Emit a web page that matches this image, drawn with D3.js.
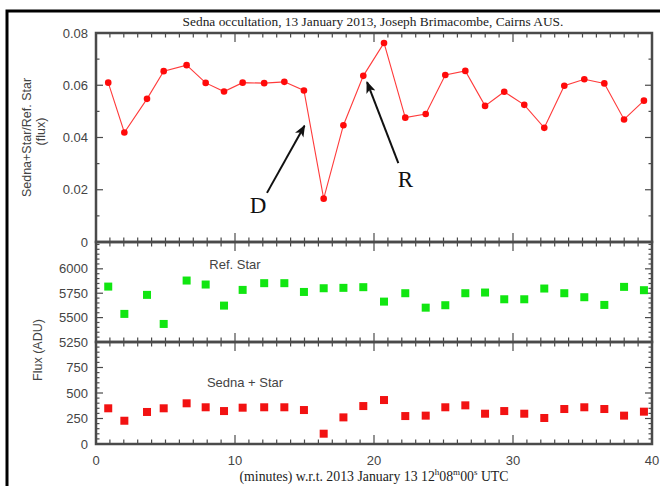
<!DOCTYPE html>
<html>
<head>
<meta charset="utf-8">
<script src="https://cdn.jsdelivr.net/npm/d3@7"></script>
<style>
  body { margin: 0; background: #fff; }
  svg { display: block; }
</style>
</head>
<body>
<svg id="svg1"></svg>
<script>
// data (minutes after 12h08m00s UTC)
const times = [0.88, 2.04, 3.67, 4.87, 6.52, 7.89, 9.21, 10.55, 12.1, 13.55, 14.96, 16.38, 17.8, 19.23,
  20.72, 22.25, 23.72, 25.13, 26.57, 27.99, 29.37, 30.81, 32.25, 33.69, 35.13, 36.57, 37.99, 39.42];
const ratio = [0.061, 0.0419, 0.0548, 0.0654, 0.0677, 0.0609, 0.0576, 0.061, 0.0608, 0.0613, 0.058, 0.0166, 0.0447, 0.0636,
  0.0762, 0.0476, 0.049, 0.0639, 0.0655, 0.0521, 0.0575, 0.0525, 0.0437, 0.0598, 0.0623, 0.0607, 0.0469, 0.0541];
const refStar = [5818, 5538, 5733, 5435, 5880, 5839, 5623, 5784, 5853, 5853, 5763, 5801, 5805, 5812,
  5664, 5750, 5602, 5627, 5750, 5757, 5688, 5688, 5798, 5750, 5709, 5630, 5815, 5781];
const sednaStar = [350, 228, 314, 350, 399, 360, 323, 356, 360, 360, 333, 101, 261, 372,
  431, 274, 278, 360, 379, 297, 323, 297, 255, 343, 360, 343, 278, 317];

const ratioTicks = [0, 0.02, 0.04, 0.06, 0.08];
const refTicks = [5250, 5500, 5750, 6000];
const sednaTicks = [0, 250, 500, 750];
const xTicks = [0, 10, 20, 30, 40];

// annotation arrows: [label, tail t, tail value, head t, head value]
const arrows = [
  ["D", 12.3, 0.0188, 15.0, 0.0445],
  ["R", 21.75, 0.0302, 19.5, 0.0612]
];

const width = 660, height = 486;
const left = 96, right = 652;
const p1 = {top: 33, bottom: 242};
const p2 = {top: 242, bottom: 342};
const p3 = {top: 342, bottom: 444};
const axisColor = "#4a4a4a";
const sans = "'Liberation Sans', Arial, sans-serif";
const serif = "'Liberation Serif', 'Times New Roman', serif";

const svg = d3.select('#svg1').attr('width', width).attr('height', height);

// outer frame
svg.append('rect')
    .attr('x', 7).attr('y', 11).attr('width', 700).attr('height', 520)
    .attr('fill', 'none').attr('stroke', '#000').attr('stroke-width', 3);

const x = d3.scaleLinear().domain([0, 40]).range([left, right]);
const y1 = d3.scaleLinear().domain([0, 0.08]).range([p1.bottom, p1.top]);
const y2 = d3.scaleLinear().domain([5250, 6275]).range([p2.bottom, p2.top]);
const y3 = d3.scaleLinear().domain([0, 1000]).range([p3.bottom, p3.top]);

const idx = d3.range(times.length);

function panelAxes(y, p, majors, minorStep, fmt, showX) {
  const g = svg.append('g');
  // frame
  g.append('rect')
      .attr('x', left).attr('y', p.top)
      .attr('width', right - left).attr('height', p.bottom - p.top)
      .attr('fill', 'none').attr('stroke', axisColor).attr('stroke-width', 2.5);

  // x ticks (bottom and top, inward)
  const xMinor = d3.range(0, 41, 1);
  xMinor.forEach(function(t) {
    const len = (t % 10 === 0) ? 9 : 4.5;
    g.append('line').attr('x1', x(t)).attr('x2', x(t))
        .attr('y1', p.bottom).attr('y2', p.bottom - len)
        .attr('stroke', axisColor).attr('stroke-width', 1.2);
    g.append('line').attr('x1', x(t)).attr('x2', x(t))
        .attr('y1', p.top).attr('y2', p.top + len)
        .attr('stroke', axisColor).attr('stroke-width', 1.2);
  });

  // y ticks (left and right, inward)
  const d = y.domain();
  const yMinor = d3.range(d[0], d[1] + 1e-9, minorStep);
  yMinor.forEach(function(v) {
    const major = majors.some(function(m) { return Math.abs(m - v) < minorStep / 10; });
    const len = major ? 7 : 3.5;
    g.append('line').attr('x1', left).attr('x2', left + len)
        .attr('y1', y(v)).attr('y2', y(v))
        .attr('stroke', axisColor).attr('stroke-width', 1.2);
    g.append('line').attr('x1', right).attr('x2', right - len)
        .attr('y1', y(v)).attr('y2', y(v))
        .attr('stroke', axisColor).attr('stroke-width', 1.2);
  });

  g.selectAll('text.ylab')
      .data(majors)
      .enter()
      .append('text')
      .attr('x', left - 8)
      .attr('y', function(v) { return y(v); })
      .attr('dy', '0.35em')
      .attr('text-anchor', 'end')
      .attr('font-family', sans)
      .attr('font-size', 13)
      .attr('fill', '#444')
      .text(fmt);

  if (showX) {
    g.selectAll('text.xlab')
        .data(xTicks)
        .enter()
        .append('text')
        .attr('x', function(t) { return x(t); })
        .attr('y', p.bottom + 21)
        .attr('text-anchor', 'middle')
        .attr('font-family', sans)
        .attr('font-size', 13)
        .attr('fill', '#444')
        .text(function(t) { return t; });
  }
}

panelAxes(y1, p1, ratioTicks, 0.01, function(v) { return v === 0 ? '0' : d3.format('.2f')(v); }, false);
panelAxes(y2, p2, refTicks, 50, function(v) { return v; }, false);
panelAxes(y3, p3, sednaTicks, 50, function(v) { return v; }, true);

// top panel: ratio line + dots
const line = d3.line()
    .x(function(i) { return x(times[i]); })
    .y(function(i) { return y1(ratio[i]); });
svg.append('path')
    .datum(idx)
    .attr('d', line)
    .attr('fill', 'none')
    .attr('stroke', '#ff3b3b')
    .attr('stroke-width', 1.1);
svg.selectAll('circle.ratio')
    .data(idx)
    .enter()
    .append('circle')
    .attr('cx', function(i) { return x(times[i]); })
    .attr('cy', function(i) { return y1(ratio[i]); })
    .attr('r', 3.3)
    .attr('fill', '#ff0a0a');

// ref star squares
const sq = 8;
svg.selectAll('rect.ref')
    .data(idx)
    .enter()
    .append('rect')
    .attr('x', function(i) { return x(times[i]) - sq / 2; })
    .attr('y', function(i) { return y2(refStar[i]) - sq / 2; })
    .attr('width', sq).attr('height', sq)
    .attr('fill', '#11e611');

// sedna + star squares
svg.selectAll('rect.sedna')
    .data(idx)
    .enter()
    .append('rect')
    .attr('x', function(i) { return x(times[i]) - sq / 2; })
    .attr('y', function(i) { return y3(sednaStar[i]) - sq / 2; })
    .attr('width', sq).attr('height', sq)
    .attr('fill', '#f21212');

// panel labels
svg.append('text')
    .attr('x', 235).attr('y', 269)
    .attr('text-anchor', 'middle')
    .attr('font-family', sans).attr('font-size', 13).attr('fill', '#444')
    .text('Ref. Star');
svg.append('text')
    .attr('x', 245).attr('y', 387)
    .attr('text-anchor', 'middle')
    .attr('font-family', sans).attr('font-size', 13).attr('fill', '#444')
    .text('Sedna + Star');

// y axis titles
svg.append('text')
    .attr('transform', 'translate(31,' + (p1.top + p1.bottom) / 2 + ') rotate(-90)')
    .attr('text-anchor', 'middle')
    .attr('font-family', sans).attr('font-size', 12.5).attr('fill', '#444')
    .text('Sedna+Star/Ref. Star');
svg.append('text')
    .attr('transform', 'translate(45,' + ((p1.top + p1.bottom) / 2 - 6) + ') rotate(-90)')
    .attr('text-anchor', 'middle')
    .attr('font-family', sans).attr('font-size', 12.5).attr('fill', '#444')
    .text('(flux)');
svg.append('text')
    .attr('transform', 'translate(42,350) rotate(-90)')
    .attr('text-anchor', 'middle')
    .attr('font-family', sans).attr('font-size', 12.5).attr('fill', '#444')
    .text('Flux (ADU)');

// title
svg.append('text')
    .attr('x', 373).attr('y', 26)
    .attr('text-anchor', 'middle')
    .attr('font-family', serif).attr('font-size', 13.4).attr('fill', '#222')
    .text('Sedna occultation, 13 January 2013, Joseph Brimacombe, Cairns AUS.');

// x axis title with superscripts
const xt = svg.append('text')
    .attr('x', 374).attr('y', 481)
    .attr('text-anchor', 'middle')
    .attr('font-family', serif).attr('font-size', 13.8).attr('fill', '#222');
xt.append('tspan').text('(minutes) w.r.t. 2013 January 13 12');
xt.append('tspan').attr('dy', -6).attr('font-size', 9).text('h');
xt.append('tspan').attr('dy', 6).text('08');
xt.append('tspan').attr('dy', -6).attr('font-size', 9).text('m');
xt.append('tspan').attr('dy', 6).text('00');
xt.append('tspan').attr('dy', -6).attr('font-size', 9).text('s');
xt.append('tspan').attr('dy', 6).text(' UTC');

// annotation arrows
svg.append('defs').append('marker')
    .attr('id', 'head')
    .attr('viewBox', '0 0 10 10')
    .attr('refX', 9).attr('refY', 5)
    .attr('markerWidth', 6).attr('markerHeight', 6)
    .attr('orient', 'auto')
    .append('path')
    .attr('d', 'M0,1 L10,5 L0,9 L2.5,5 Z')
    .attr('fill', '#111');

arrows.forEach(function(a) {
  svg.append('line')
      .attr('x1', x(a[1])).attr('y1', y1(a[2]))
      .attr('x2', x(a[3])).attr('y2', y1(a[4]))
      .attr('stroke', '#111').attr('stroke-width', 2)
      .attr('marker-end', 'url(#head)');
});
svg.append('text')
    .attr('x', x(arrows[0][1]) - 9).attr('y', y1(arrows[0][2]) + 20)
    .attr('text-anchor', 'middle')
    .attr('font-family', serif).attr('font-size', 23).attr('fill', '#111')
    .text(arrows[0][0]);
svg.append('text')
    .attr('x', x(arrows[1][1]) + 7).attr('y', y1(arrows[1][2]) + 24)
    .attr('text-anchor', 'middle')
    .attr('font-family', serif).attr('font-size', 23).attr('fill', '#111')
    .text(arrows[1][0]);
</script>
</body>
</html>
